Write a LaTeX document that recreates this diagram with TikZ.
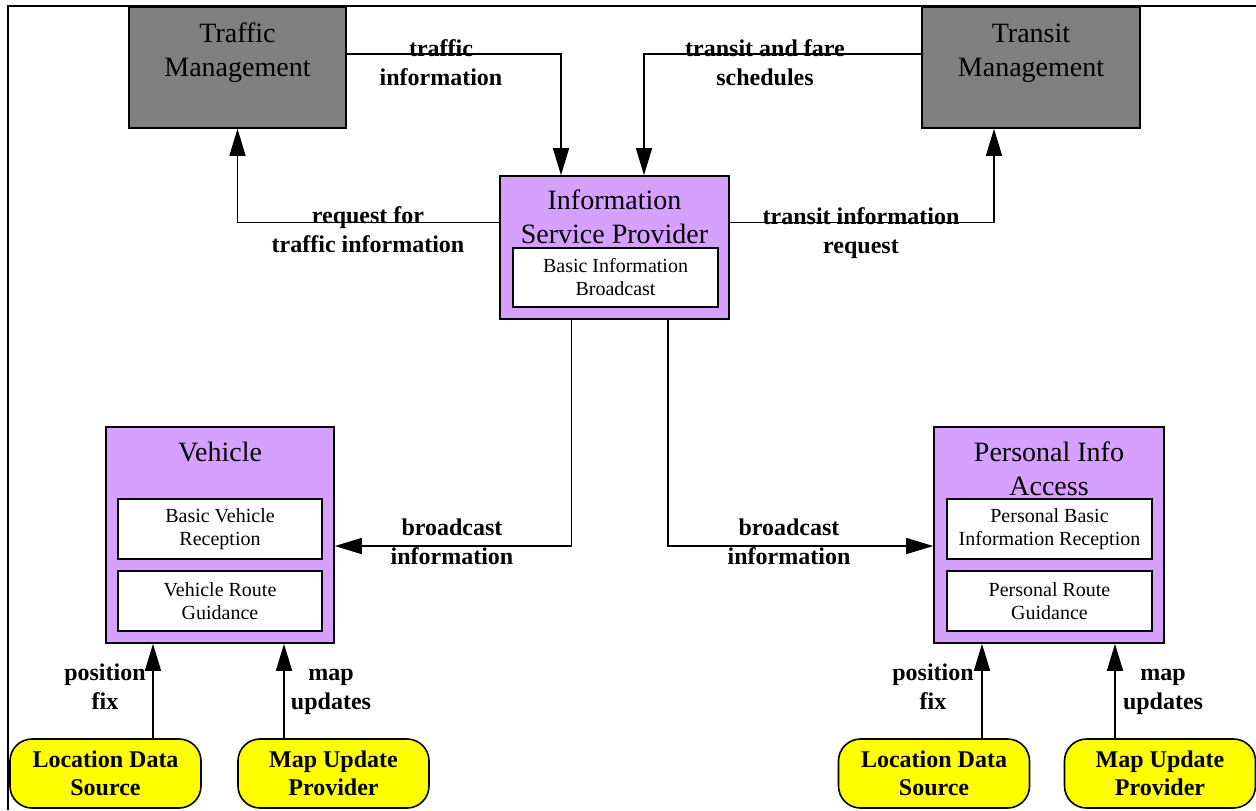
\documentclass[tikz,border=0pt]{standalone}
\usepackage{fontspec}
\setmainfont{Liberation Serif}
\usepackage{tikz}
\usetikzlibrary{arrows.meta}
\usepackage{xcolor}

\definecolor{mgmtgray}{RGB}{128,128,128}
\definecolor{sublilac}{RGB}{213,160,255}
\definecolor{termyellow}{RGB}{255,255,0}

\begin{document}
\begin{tikzpicture}[x=0.5pt, y=-0.5pt]
        % ================= styles =================
        \tikzset{
            % external systems: gray box
            sysbox/.style={draw=black, line width=0.8pt, fill=mgmtgray, inner sep=0pt},
            % subsystems: lilac box
            subsys/.style={draw=black, line width=0.8pt, fill=sublilac, inner sep=0pt},
            % equipment packages: white box inside a subsystem
            pkg/.style={draw=black, line width=0.8pt, fill=white, inner sep=0pt, align=center, minimum height=30pt, font=\fontsize{10}{11.5}\selectfont},
            % terminators: yellow rounded box
            term/.style={draw=black, line width=0.8pt, fill=termyellow, rounded corners=11pt, inner sep=0pt, align=center, minimum width=95.5pt, minimum height=34.5pt, font=\fontsize{12}{14}\selectfont\bfseries},
            % box titles
            boxtitle/.style={align=center, inner sep=0pt, font=\fontsize{14}{17}\selectfont},
            % flows
            flow/.style={line width=0.7pt, -{Triangle[length=13.5pt, width=8pt]}},
            flowlbl/.style={align=center, inner sep=0pt, font=\fontsize{12}{14.5}\selectfont\bfseries}
        }

        \useasboundingbox (0,0) rectangle (1256,810);
        % frame (only top and left edges show)
        \draw[line width=1pt] (1256,6) -| (8,810);

        % ================= top: management centers =================
        \node[sysbox, minimum width=108.5pt, minimum height=60.5pt] (tm) at (237.5,67.5) {};
        \node[boxtitle] (tm_t) at (237.5,53) {Traffic\\Management};

        \node[sysbox, minimum width=109pt, minimum height=60.5pt] (trm) at (1031,67.5) {};
        \node[boxtitle] (trm_t) at (1031,53) {Transit\\Management};

        % ================= middle: information service provider =================
        \node[subsys, minimum width=114.5pt, minimum height=71.5pt] (isp) at (614.5,247.5) {};
        \node[boxtitle] (isp_t) at (614.5,216.5) {Information\\Service Provider};
        \node[pkg, minimum width=102.5pt, minimum height=29.5pt] (isp_bib) at (615.5,277.5) {Basic Information\\Broadcast};

        % ================= left: vehicle =================
        \node[subsys, minimum width=114pt, minimum height=108pt] (veh) at (220,535) {};
        \node[boxtitle] (veh_t) at (220,452) {Vehicle};
        \node[pkg, minimum width=102pt] (veh_bvr) at (220,529) {Basic Vehicle\\Reception};
        \node[pkg, minimum width=102pt] (veh_vrg) at (220,601) {Vehicle Route\\Guidance};

        % ================= right: personal info access =================
        \node[subsys, minimum width=115pt, minimum height=108pt] (pia) at (1049,535) {};
        \node[boxtitle] (pia_t) at (1049,469) {Personal Info\\Access};
        \node[pkg, minimum width=102.5pt] (pia_pbir) at (1049.5,529) {Personal Basic\\Information Reception};
        \node[pkg, minimum width=102.5pt] (pia_prg) at (1049.5,601) {Personal Route\\Guidance};

        % ================= bottom: terminators =================
        \node[term] (lds1) at (105.5,773.5) {Location Data\\Source};
        \node[term] (mup1) at (333.5,773.5) {Map Update\\Provider};
        \node[term] (lds2) at (934,773.5) {Location Data\\Source};
        \node[term] (mup2) at (1160,773.5) {Map Update\\Provider};

        % ================= flows =================
        % bend points
        \coordinate (k_ti) at (561,54);
        \coordinate (k_tf) at (644,54);
        \coordinate (k_rq) at (237.5,222.5);
        \coordinate (k_tq) at (994,222.5);
        \coordinate (k_b1) at (571.5,546);
        \coordinate (k_b2) at (668,546);
        \coordinate (k_p1) at (153,700);
        \coordinate (k_m1) at (284,700);
        \coordinate (k_p2) at (982,700);
        \coordinate (k_m2) at (1115,700);

        \draw[flow] (tm.east |- k_ti) -| (isp.north -| k_ti);
        \draw[flow] (trm.west |- k_tf) -| (isp.north -| k_tf);
        \draw[flow] (isp.west |- k_rq) -| (tm.south);
        \draw[flow] (isp.east |- k_tq) -| (trm.south -| k_tq);
        \draw[flow] (isp.south -| k_b1) |- (veh.east |- k_b1);
        \draw[flow] (isp.south -| k_b2) |- (pia.west |- k_b2);
        \draw[flow] (lds1.north -| k_p1) -- (veh.south -| k_p1);
        \draw[flow] (mup1.north -| k_m1) -- (veh.south -| k_m1);
        \draw[flow] (lds2.north -| k_p2) -- (pia.south -| k_p2);
        \draw[flow] (mup2.north -| k_m2) -- (pia.south -| k_m2);

        % flow labels
        \node[flowlbl] (l_ti) at (441,63) {traffic\\information};
        \node[flowlbl] (l_tf) at (765,63) {transit and fare\\schedules};
        \node[flowlbl] (l_rq) at (368,230) {request for\\traffic information};
        \node[flowlbl] (l_tq) at (861,233) {transit information\\request};
        \node[flowlbl] (l_b1) at (452,542) {broadcast\\information};
        \node[flowlbl] (l_b2) at (789,542) {broadcast\\information};
        \node[flowlbl] (l_p1) at (105,687) {position\\fix};
        \node[flowlbl] (l_m1) at (331,692) {map\\updates};
        \node[flowlbl] (l_p2) at (933,687) {position\\fix};
        \node[flowlbl] (l_m2) at (1163,692) {map\\updates};

    \end{tikzpicture}
\end{document}
